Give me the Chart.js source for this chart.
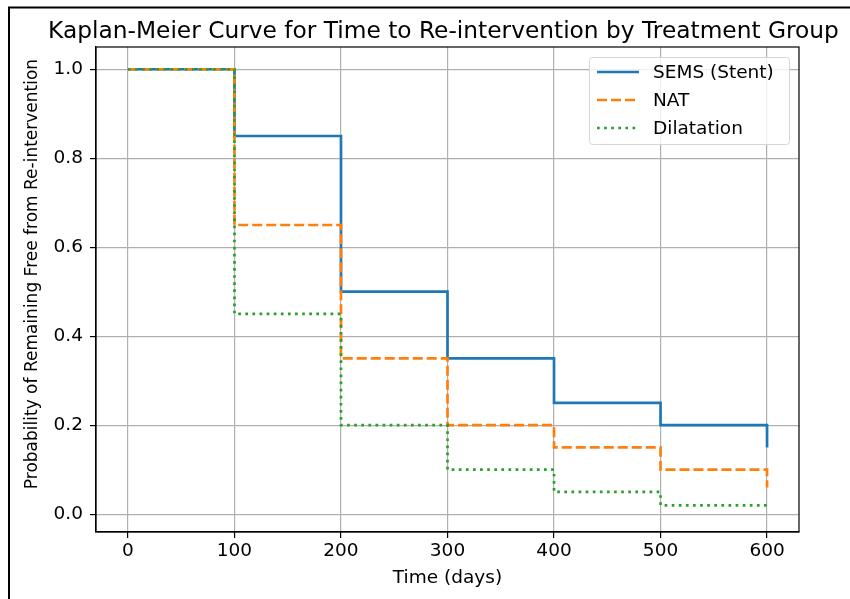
<!DOCTYPE html>
<html>
<head>
<meta charset="utf-8">
<script src="https://cdn.jsdelivr.net/npm/chart.js@4/dist/chart.umd.min.js"></script>
<style>
  html, body { margin: 0; padding: 0; background: #fff; }
  #wrap { width: 850px; height: 599px; position: relative; }
</style>
</head>
<body>
<div id="wrap"><canvas id="kmChart" width="850" height="599"></canvas></div>
<script>
// time points (days) where the survival estimate changes
const days = [0, 100, 200, 300, 400, 500, 600];
const semsValues = [1.0, 0.85, 0.50, 0.35, 0.25, 0.20, 0.15];
const natValues = [1.0, 0.65, 0.35, 0.20, 0.15, 0.10, 0.06];
const dilatationValues = [1.0, 0.45, 0.20, 0.10, 0.05, 0.02, 0.015];
const seriesNames = ['SEMS (Stent)', 'NAT', 'Dilatation'];
const xTicks = [0, 100, 200, 300, 400, 500, 600];
const yTicks = [0.0, 0.2, 0.4, 0.6, 0.8, 1.0];

const FONT = '"DejaVu Sans", sans-serif';

function toPoints(values) {
    return days.map((d, i) => ({ x: d, y: values[i] }));
}

const extras = {
    id: 'extras',
    afterDraw(chart) {
        const ctx = chart.ctx;
        const a = chart.chartArea;
        ctx.save();

        // axes frame (top and right spines)
        ctx.strokeStyle = '#000';
        ctx.lineWidth = 1.2;
        ctx.strokeRect(a.left, a.top, a.right - a.left, a.bottom - a.top);

        // title
        ctx.fillStyle = '#000';
        ctx.font = '23.3px ' + FONT;
        ctx.textAlign = 'center';
        ctx.textBaseline = 'alphabetic';
        ctx.fillText('Kaplan-Meier Curve for Time to Re-intervention by Treatment Group', 443.5, 38);

        // axis titles
        ctx.font = '18.5px ' + FONT;
        ctx.textBaseline = 'middle';
        ctx.fillText('Time (days)', (a.left + a.right) / 2, 578);
        ctx.font = '17px ' + FONT;
        ctx.translate(33, 274);
        ctx.rotate(-Math.PI / 2);
        ctx.fillText('Probability of Remaining Free from Re-intervention', 0, 0);
        ctx.setTransform(1, 0, 0, 1, 0, 0);

        // legend
        const lx = 589, ly = 57, lw = 200, lh = 87;
        ctx.fillStyle = 'rgba(255,255,255,0.8)';
        ctx.strokeStyle = '#d6d6d6';
        ctx.lineWidth = 1;
        ctx.beginPath();
        ctx.roundRect(lx + 0.5, ly + 0.5, lw, lh, 3);
        ctx.fill();
        ctx.stroke();
        ctx.font = '18.5px ' + FONT;
        ctx.textAlign = 'left';
        chart.data.datasets.forEach((ds, i) => {
            const y = 72 + i * 28;
            ctx.strokeStyle = ds.borderColor;
            ctx.lineWidth = ds.borderWidth;
            ctx.setLineDash(ds.borderDash || []);
            ctx.beginPath();
            ctx.moveTo(597, y);
            ctx.lineTo(639, y);
            ctx.stroke();
            ctx.setLineDash([]);
            ctx.fillStyle = '#000';
            ctx.fillText(seriesNames[i], 653, y + 1);
        });

        // outer frame of the image
        ctx.strokeStyle = '#000';
        ctx.lineWidth = 2;
        ctx.beginPath();
        ctx.moveTo(9, 599);
        ctx.lineTo(9, 7.5);
        ctx.lineTo(850, 7.5);
        ctx.stroke();
        ctx.restore();
    }
};

new Chart(document.getElementById('kmChart'), {
    type: 'line',
    data: {
        datasets: [{
            label: seriesNames[0],
            data: toPoints(semsValues),
            borderColor: '#1f77b4',
            borderWidth: 2.7,
            stepped: true,
            pointRadius: 0,
            order: 2
        }, {
            label: seriesNames[1],
            data: toPoints(natValues),
            borderColor: '#ff7f0e',
            borderWidth: 2.7,
            borderDash: [10, 4],
            stepped: true,
            pointRadius: 0,
            order: 1
        }, {
            label: seriesNames[2],
            data: toPoints(dilatationValues),
            borderColor: '#2ca02c',
            borderWidth: 2.7,
            borderDash: [2.7, 4.4],
            stepped: true,
            pointRadius: 0,
            order: 0
        }]
    },
    options: {
        responsive: false,
        animation: false,
        layout: { padding: { left: 0, top: 47, right: 51, bottom: 0 } },
        plugins: {
            legend: { display: false },
            title: { display: false },
            tooltip: { enabled: false }
        },
        scales: {
            x: {
                type: 'linear',
                min: -30,
                max: 630,
                afterBuildTicks: scale => { scale.ticks = xTicks.map(v => ({ value: v })); },
                afterFit: scale => { scale.height = 67; },
                grid: { color: '#b0b0b0', lineWidth: 1.2, tickColor: '#000', tickLength: 6 },
                border: { color: '#000', width: 1.2 },
                ticks: { color: '#000', font: { family: FONT, size: 18.5 }, padding: 2, maxRotation: 0 }
            },
            y: {
                type: 'linear',
                min: -0.04,
                max: 1.05,
                afterBuildTicks: scale => { scale.ticks = yTicks.map(v => ({ value: v })); },
                afterFit: scale => { scale.width = 96; },
                grid: { color: '#b0b0b0', lineWidth: 1.2, tickColor: '#000', tickLength: 6 },
                border: { color: '#000', width: 1.2 },
                ticks: {
                    color: '#000',
                    font: { family: FONT, size: 18.5 },
                    padding: 7,
                    callback: v => v.toFixed(1)
                }
            }
        }
    },
    plugins: [extras]
});
</script>
</body>
</html>
